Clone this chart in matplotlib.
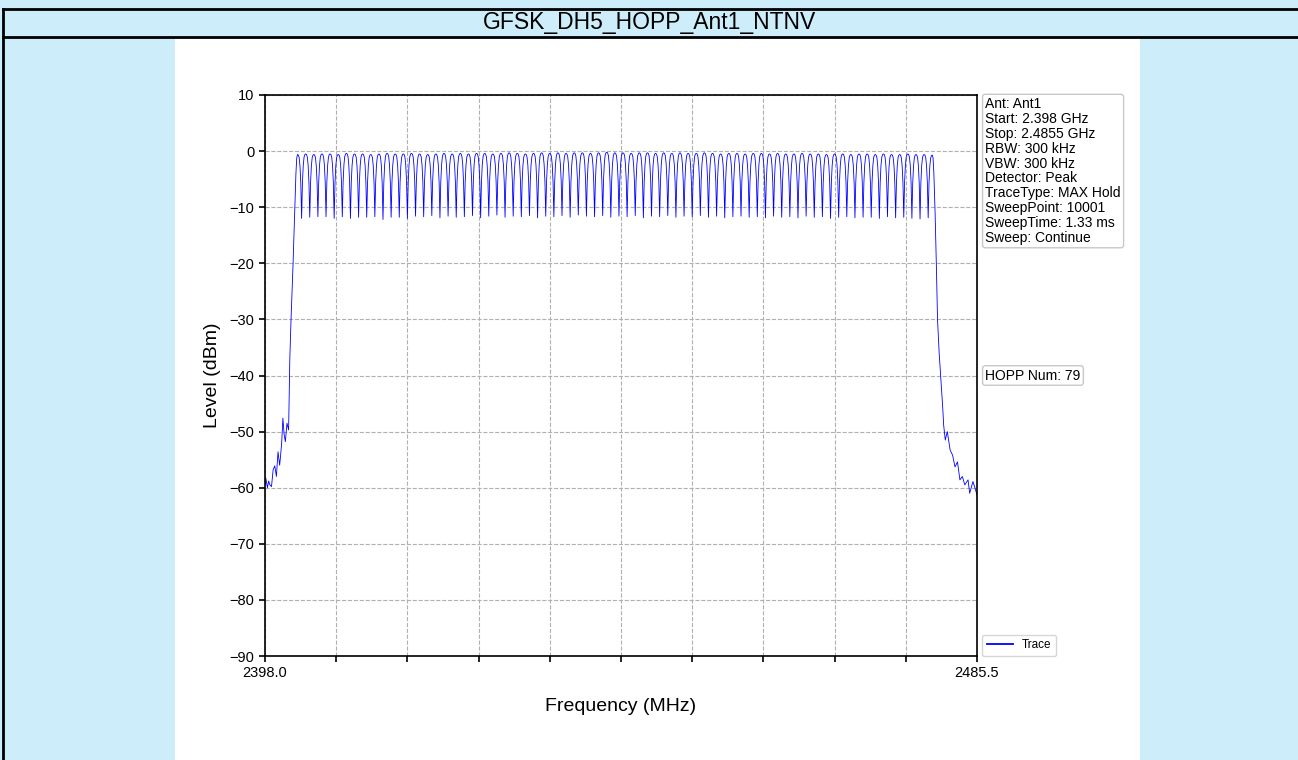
import numpy as np
import matplotlib
matplotlib.use("Agg")
import matplotlib.pyplot as plt
from matplotlib.patches import Rectangle
from matplotlib.lines import Line2D

plt.rcParams['font.family'] = ['Liberation Sans', 'DejaVu Sans']

# ============================================================
# DATA
# ============================================================

TITLE = "GFSK_DH5_HOPP_Ant1_NTNV"
F_START = 2398.0
F_STOP = 2485.5

# hopping channels, 1 MHz raster
channel_mhz = np.arange(2402, 2481)

# peak level of each channel [dBm]
peak_dbm = [
    -0.6, -0.5, -0.6, -0.5, -0.5, -0.6, -0.4, -0.5, -0.5, -0.6,
    -0.5, -0.4, -0.5, -0.5, -0.4, -0.5, -0.6, -0.5, -0.4, -0.5,
    -0.4, -0.5, -0.4, -0.4, -0.5, -0.4, -0.3, -0.4, -0.5, -0.4,
    -0.3, -0.4, -0.3, -0.4, -0.3, -0.3, -0.4, -0.3, -0.2, -0.3,
    -0.3, -0.4, -0.3, -0.3, -0.4, -0.3, -0.4, -0.3, -0.4, -0.4,
    -0.3, -0.4, -0.5, -0.4, -0.4, -0.5, -0.4, -0.4, -0.5, -0.4,
    -0.5, -0.5, -0.4, -0.5, -0.5, -0.6, -0.5, -0.5, -0.6, -0.5,
    -0.5, -0.6, -0.5, -0.6, -0.6, -0.5, -0.6, -0.6, -0.7,
]

# level of the notch between neighbouring channels [dBm]
dip_dbm = [
    -12.0, -11.8, -11.7, -11.7, -12.0, -11.7, -12.0, -11.8, -11.8, -11.7,
    -12.2, -11.8, -11.8, -12.0, -11.6, -11.7, -11.5, -11.9, -11.6, -11.8,
    -11.7, -11.5, -11.9, -11.6, -11.4, -11.8, -11.6, -11.7, -11.5, -11.9,
    -11.6, -11.7, -11.5, -11.8, -11.4, -11.6, -11.7, -11.5, -11.8, -11.6,
    -11.7, -11.5, -11.9, -11.6, -11.7, -11.5, -11.8, -11.6, -11.7, -11.5,
    -11.8, -11.6, -11.9, -11.7, -11.6, -11.8, -11.7, -11.9, -11.6, -11.8,
    -11.7, -11.9, -11.6, -11.8, -11.7, -12.0, -11.8, -11.7, -11.9, -11.8,
    -11.8, -12.0, -11.7, -11.9, -11.8, -12.0, -12.1, -11.9,
]

# half-channel shape: offset from centre [MHz] vs fraction of the way down to the notch
half_offset_mhz = [0.0, 0.1, 0.2, 0.3, 0.4, 0.45, 0.5]
half_fraction = [0.0, 0.01, 0.05, 0.18, 0.45, 0.72, 1.0]

# band edges / skirts
left_skirt_mhz = [2398.0, 2398.1, 2398.3, 2398.45, 2398.6, 2398.8, 2399.0, 2399.2,
                  2399.4, 2399.6, 2399.8, 2399.9, 2400.05, 2400.2, 2400.35, 2400.5,
                  2400.7, 2400.9, 2401.0, 2401.05, 2401.2, 2401.45, 2401.65, 2401.8,
                  2401.9]
left_skirt_dbm = [-59.5, -58.3, -60.0, -58.8, -59.5, -59.8, -56.8, -56.1,
                  -58.0, -53.6, -56.0, -54.5, -52.0, -47.6, -50.5, -51.8,
                  -48.5, -49.7, -40.8, -37.0, -30.0, -20.0, -11.0, -4.0,
                  -1.2]

right_skirt_mhz = [2480.1, 2480.2, 2480.35, 2480.5, 2480.65, 2480.85, 2481.1, 2481.3,
                   2481.4, 2481.6, 2481.85, 2482.2, 2482.5, 2482.8, 2483.1, 2483.4,
                   2483.7, 2484.0, 2484.4, 2484.6, 2485.0, 2485.2, 2485.5]
right_skirt_dbm = [-1.2, -4.0, -11.0, -20.0, -30.0, -36.0, -41.5, -46.0,
                   -48.8, -51.5, -50.0, -53.3, -54.2, -56.3, -55.4, -58.6,
                   -58.0, -59.5, -58.6, -61.0, -58.9, -59.8, -61.3]

info_lines = [
    "Ant: Ant1",
    "Start: 2.398 GHz",
    "Stop: 2.4855 GHz",
    "RBW: 300 kHz",
    "VBW: 300 kHz",
    "Detector: Peak",
    "TraceType: MAX Hold",
    "SweepPoint: 10001",
    "SweepTime: 1.33 ms",
    "Sweep: Continue",
]
hopp_num = 79

# ============================================================
# BUILD TRACE
# ============================================================

freq = list(left_skirt_mhz)
level = list(left_skirt_dbm)

n_ch = len(channel_mhz)
for i in range(n_ch):
    f0 = channel_mhz[i]
    p = peak_dbm[i]
    # left half (first channel uses the measured skirt instead)
    if i > 0:
        d = dip_dbm[i - 1]
        for o, fr in zip(half_offset_mhz[::-1][1:-1], half_fraction[::-1][1:-1]):
            freq.append(f0 - o)
            level.append(p + fr * (d - p))
    freq.append(f0)
    level.append(p)
    # right half (last channel uses the measured skirt instead)
    if i < n_ch - 1:
        d = dip_dbm[i]
        for o, fr in zip(half_offset_mhz[1:], half_fraction[1:]):
            freq.append(f0 + o)
            level.append(p + fr * (d - p))

freq += right_skirt_mhz
level += right_skirt_dbm

# ============================================================
# FIGURE / PAGE
# ============================================================

W, H = 1298, 760
fig = plt.figure(figsize=(W / 100, H / 100), dpi=100)
fig.patch.set_facecolor("#cdedfb")

def fx(px):
    return px / W

def fy(py):
    return 1 - py / H

# white chart panel
fig.patches.append(Rectangle((fx(175), 0), fx(1140) - fx(175), fy(38),
                             transform=fig.transFigure, facecolor="white",
                             edgecolor="none", zorder=-5))

# title bar frame
for (x0, y0, x1, y1) in [(3, 9, W, 9), (3, 37, W, 37), (3, 9, 3, H)]:
    fig.lines.append(Line2D([fx(x0), fx(x1)], [fy(y0), fy(y1)],
                            transform=fig.transFigure, color="black", lw=2,
                            zorder=-4))

fig.text(0.5, fy(23), TITLE, ha="center", va="center", fontsize=16.5)

# ============================================================
# AXES
# ============================================================

ax = fig.add_axes([fx(265), fy(656), fx(977) - fx(265), fy(95) - fy(656)])
ax.set_facecolor("white")

ax.plot(freq, level, color="blue", lw=0.6, label="Trace")

ax.set_xlim(F_START, F_STOP)
ax.set_ylim(-90, 10)

xt = np.linspace(F_START, F_STOP, 11)
ax.set_xticks(xt)
ax.set_xticklabels([f"{F_START:.1f}"] + [""] * 9 + [f"{F_STOP:.1f}"])
ax.set_yticks(np.arange(-90, 11, 10))

ax.grid(True, linestyle="--", color="#b0b0b0", lw=0.8)
ax.tick_params(labelsize=10.5, width=1.2, length=4)
for s in ax.spines.values():
    s.set_linewidth(1.2)

ax.set_xlabel("Frequency (MHz)", fontsize=14, labelpad=13)
ax.set_ylabel("Level (dBm)", fontsize=14, labelpad=6)

# info boxes to the right of the plot
box = dict(boxstyle="round,pad=0.2", facecolor="white", edgecolor="#c8c8c8", lw=1)
ax.annotate("\n".join(info_lines), xy=(1, 1), xycoords="axes fraction",
            xytext=(6, -1.5), textcoords="offset points", ha="left", va="top",
            fontsize=10, linespacing=1.08, bbox=box)
ax.annotate(f"HOPP Num: {hopp_num}", xy=(1, 0.5), xycoords="axes fraction",
            xytext=(6, 0), textcoords="offset points", ha="left", va="center",
            fontsize=10, bbox=box)

leg = ax.legend(loc="lower left", bbox_to_anchor=(1.007, 0.0), fontsize=8.5,
                borderaxespad=0.0, handlelength=2.2)
for h in leg.get_lines():
    h.set_linewidth(1.3)

fig.savefig("out.png", dpi=100, facecolor=fig.get_facecolor())
